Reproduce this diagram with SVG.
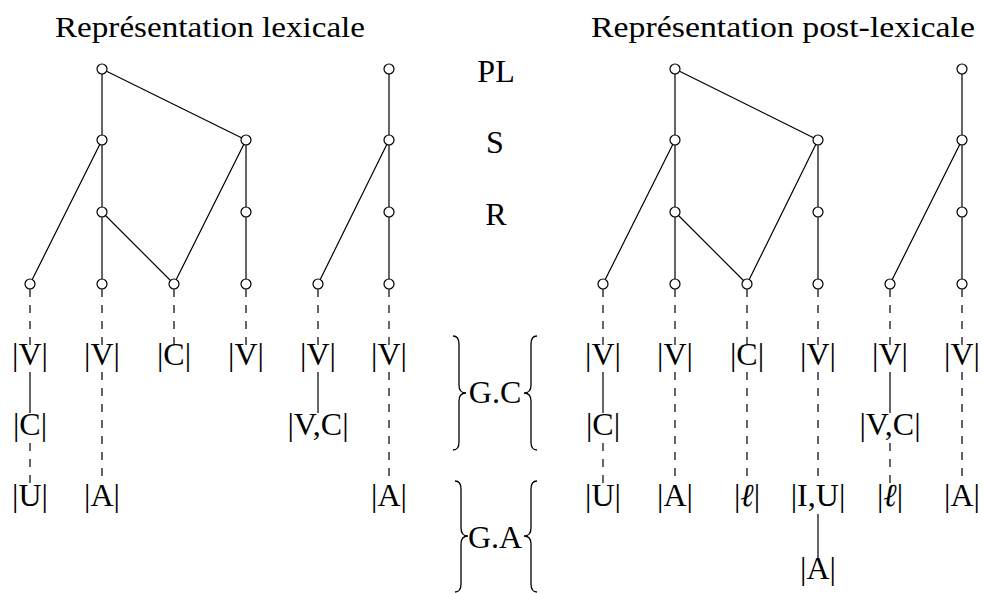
<svg xmlns="http://www.w3.org/2000/svg" width="983" height="593" viewBox="0 0 983 593">
<rect width="983" height="593" fill="#fff"/>
<g id="titles" font-family="Liberation Serif" font-size="29">
<text x="55" y="37" textLength="310" lengthAdjust="spacingAndGlyphs">Représentation lexicale</text>
<text x="591" y="37" textLength="384" lengthAdjust="spacingAndGlyphs">Représentation post-lexicale</text>
</g>
<g id="levels" font-family="Liberation Serif" font-size="32" text-anchor="middle">
<text x="496" y="82">PL</text>
<text x="495" y="153">S</text>
<text x="496" y="225">R</text>
</g>
<g id="connectors" stroke="#000" stroke-width="1.2" fill="none">
<path d="M102,69V140M102,69L246,140M102,140L30,284M102,140V212M102,212V284M102,212L174,284M246,140L174,284M246,140V284M389,69V284M389,140L318,284"/>
<path d="M675,69V140M675,69L818,140M675,140L603,284M675,140V212M675,212V284M675,212L747,284M818,140L747,284M818,140V284M962,69V284M962,140L890,284"/>
<path d="M30,372V413M318,372V413M603,372V413M890,372V413M818,514V560"/>
<g stroke-dasharray="8 8">
<path d="M30,289V346M102,289V346M174,289V346M246,289V346M318,289V346M389,289V346M603,289V346M675,289V346M747,289V346M818,289V346M890,289V346M962,289V346"/>
<path d="M30,443V484M603,443V484M890,443V484"/>
<path d="M102,372V484M389,372V484M675,372V484M747,372V484M818,372V484M962,372V484"/>
</g>
</g>
<g id="nodes-left" fill="#fff" stroke="#000" stroke-width="1.2">
<g id="L-PL1"><circle cx="102" cy="69" r="5"/></g>
<g id="L-PL2"><circle cx="389" cy="69" r="5"/></g>
<g id="L-S1"><circle cx="102" cy="140" r="5"/></g>
<g id="L-S2"><circle cx="246" cy="140" r="5"/></g>
<g id="L-S3"><circle cx="389" cy="140" r="5"/></g>
<g id="L-R1"><circle cx="102" cy="212" r="5"/></g>
<g id="L-R2"><circle cx="246" cy="212" r="5"/></g>
<g id="L-R3"><circle cx="389" cy="212" r="5"/></g>
<g id="L-B1"><circle cx="30" cy="284" r="5"/></g>
<g id="L-B2"><circle cx="102" cy="284" r="5"/></g>
<g id="L-B3"><circle cx="174" cy="284" r="5"/></g>
<g id="L-B4"><circle cx="246" cy="284" r="5"/></g>
<g id="L-B5"><circle cx="318" cy="284" r="5"/></g>
<g id="L-B6"><circle cx="389" cy="284" r="5"/></g>
</g>
<g id="nodes-right" fill="#fff" stroke="#000" stroke-width="1.2">
<g id="R-PL1"><circle cx="675" cy="69" r="5"/></g>
<g id="R-PL2"><circle cx="962" cy="69" r="5"/></g>
<g id="R-S1"><circle cx="675" cy="140" r="5"/></g>
<g id="R-S2"><circle cx="818" cy="140" r="5"/></g>
<g id="R-S3"><circle cx="962" cy="140" r="5"/></g>
<g id="R-R1"><circle cx="675" cy="212" r="5"/></g>
<g id="R-R2"><circle cx="818" cy="212" r="5"/></g>
<g id="R-R3"><circle cx="962" cy="212" r="5"/></g>
<g id="R-B1"><circle cx="603" cy="284" r="5"/></g>
<g id="R-B2"><circle cx="675" cy="284" r="5"/></g>
<g id="R-B3"><circle cx="747" cy="284" r="5"/></g>
<g id="R-B4"><circle cx="818" cy="284" r="5"/></g>
<g id="R-B5"><circle cx="890" cy="284" r="5"/></g>
<g id="R-B6"><circle cx="962" cy="284" r="5"/></g>
</g>
<g id="labels-left" font-family="Liberation Serif" font-size="32" text-anchor="middle">
<g id="LV1"><text x="30" y="365">|V|</text></g>
<g id="LV2"><text x="102" y="365">|V|</text></g>
<g id="LC3"><text x="174" y="365">|C|</text></g>
<g id="LV4"><text x="246" y="365">|V|</text></g>
<g id="LV5"><text x="318" y="365">|V|</text></g>
<g id="LV6"><text x="389" y="365">|V|</text></g>
<g id="LC1"><text x="30" y="435">|C|</text></g>
<g id="LVC5"><text x="318" y="435">|V,C|</text></g>
<g id="LU1"><text x="30" y="506">|U|</text></g>
<g id="LA2"><text x="102" y="506">|A|</text></g>
<g id="LA6"><text x="389" y="506">|A|</text></g>
</g>
<g id="labels-right" font-family="Liberation Serif" font-size="32" text-anchor="middle">
<g id="RV1"><text x="603" y="365">|V|</text></g>
<g id="RV2"><text x="675" y="365">|V|</text></g>
<g id="RC3"><text x="747" y="365">|C|</text></g>
<g id="RV4"><text x="818" y="365">|V|</text></g>
<g id="RV5"><text x="890" y="365">|V|</text></g>
<g id="RV6"><text x="962" y="365">|V|</text></g>
<g id="RC1"><text x="603" y="435">|C|</text></g>
<g id="RVC5"><text x="890" y="435">|V,C|</text></g>
<g id="RU1"><text x="603" y="506">|U|</text></g>
<g id="RA2"><text x="675" y="506">|A|</text></g>
<g id="RL3"><text x="747" y="506">|<tspan font-style="italic">ℓ</tspan>|</text></g>
<g id="RIU4"><text x="818" y="506">|I,U|</text></g>
<g id="RL5"><text x="890" y="506">|<tspan font-style="italic">ℓ</tspan>|</text></g>
<g id="RA6"><text x="962" y="506">|A|</text></g>
<g id="RA4"><text x="818" y="579">|A|</text></g>
</g>
<g id="GC">
<path d="M453,336Q459,336 459,344L459,385Q459,393 466,393Q459,393 459,401L459,442Q459,450 453,450M537,336Q531,336 531,344L531,385Q531,393 524,393Q531,393 531,401L531,442Q531,450 537,450" stroke="#000" stroke-width="1.3" fill="none"/>
<text x="495" y="403" font-family="Liberation Serif" font-size="32" text-anchor="middle">G.C</text>
</g>
<g id="GA">
<path d="M455,481Q461,481 461,489L461,528Q461,536 468,536Q461,536 461,544L461,584Q461,592 455,592M537,481Q531,481 531,489L531,528Q531,536 524,536Q531,536 531,544L531,584Q531,592 537,592" stroke="#000" stroke-width="1.3" fill="none"/>
<text x="495" y="548" font-family="Liberation Serif" font-size="32" text-anchor="middle">G.A</text>
</g>
</svg>
